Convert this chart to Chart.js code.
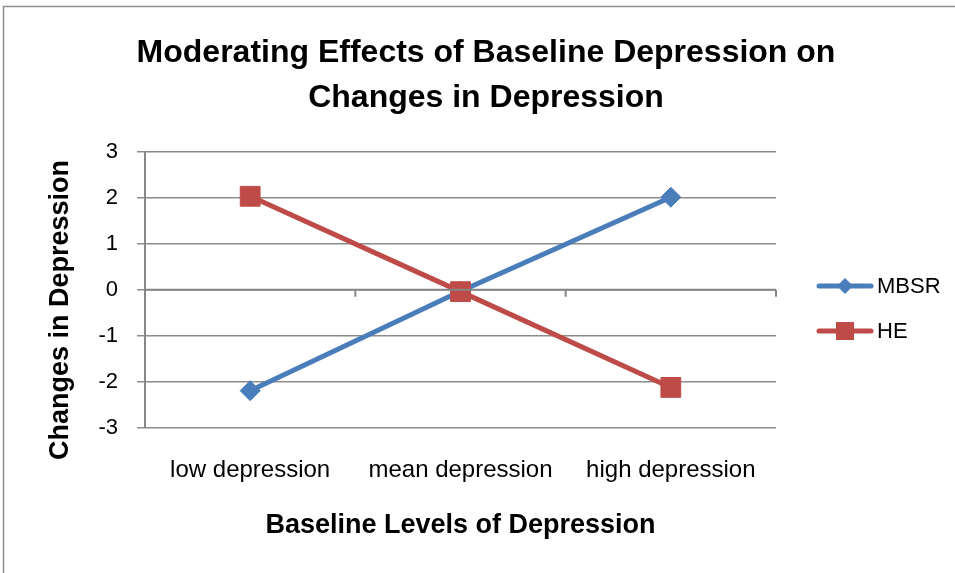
<!DOCTYPE html>
<html>
<head>
<meta charset="utf-8">
<script src="https://cdn.jsdelivr.net/npm/chart.js@4/dist/chart.umd.min.js"></script>
<style>
  html, body { margin: 0; padding: 0; background: #fff; }
  canvas { display: block; }
</style>
</head>
<body>
<canvas id="chart" width="955" height="573"></canvas>
<script>
const categories = ["low depression", "mean depression", "high depression"];
const mbsrValues = [-2.19, -0.03, 2.01];
const heValues = [2.03, -0.04, -2.12];
const yMin = -3;
const yMax = 3;
const yStep = 1;

const FONT = "'Liberation Sans', Arial, sans-serif";
const GRID = "#8c8c8c";

// frame round the whole chart, y axis title, x axis line at zero, legend
const extras = {
  id: "extras",
  beforeDraw(chart) {
    const c = chart.ctx;
    c.save();
    c.fillStyle = "#fff";
    c.fillRect(0, 0, chart.width, chart.height);
    c.strokeStyle = "#8e8e8e";
    c.lineWidth = 1.5;
    c.strokeRect(3.5, 6.5, chart.width + 10, chart.height + 10);
    c.restore();
  },
  afterDraw(chart) {
    const c = chart.ctx;
    const x = chart.scales.x;
    const y = chart.scales.y;
    const area = chart.chartArea;
    const y0 = y.getPixelForValue(0);

    c.save();
    c.strokeStyle = "#868686";
    c.lineWidth = 2;
    c.beginPath();
    c.moveTo(area.left, y0);
    c.lineTo(area.right, y0);
    for (let i = 0; i <= categories.length; i++) {
      let px;
      if (i === 0) px = area.left;
      else if (i === categories.length) px = area.right;
      else px = (x.getPixelForValue(i - 1) + x.getPixelForValue(i)) / 2;
      c.moveTo(px, y0);
      c.lineTo(px, y0 + 7);
    }
    c.stroke();

    // y title
    c.fillStyle = "#000";
    c.font = "bold 27px " + FONT;
    c.textAlign = "center";
    c.textBaseline = "alphabetic";
    c.translate(68, 310);
    c.rotate(-Math.PI / 2);
    c.fillText("Changes in Depression", 0, 0);
    c.restore();

    // legend
    c.save();
    const rows = [286, 331];
    chart.data.datasets.forEach((ds, i) => {
      const ly = rows[i];
      c.strokeStyle = ds.borderColor;
      c.lineWidth = 5;
      c.lineCap = "round";
      c.beginPath();
      c.moveTo(819, ly);
      c.lineTo(871, ly);
      c.stroke();
      c.fillStyle = ds.backgroundColor;
      c.beginPath();
      if (ds.pointStyle === "rectRot") {
        c.moveTo(845, ly - 8);
        c.lineTo(853, ly);
        c.lineTo(845, ly + 8);
        c.lineTo(837, ly);
        c.closePath();
      } else {
        c.rect(836, ly - 9, 18, 18);
      }
      c.fill();
      c.fillStyle = "#000";
      c.font = "22px " + FONT;
      c.textAlign = "left";
      c.textBaseline = "middle";
      c.fillText(ds.label, 877, ly + 1);
    });
    c.restore();
  }
};

new Chart(document.getElementById("chart"), {
  type: "line",
  data: {
    labels: categories,
    datasets: [
      {
        label: "MBSR",
        data: mbsrValues,
        borderColor: "#4a7ebb",
        backgroundColor: "#4a7ebb",
        borderWidth: 5,
        pointStyle: "rectRot",
        pointRadius: 10,
        pointBorderWidth: 1,
        order: 1
      },
      {
        label: "HE",
        data: heValues,
        borderColor: "#be4b48",
        backgroundColor: "#be4b48",
        borderWidth: 5,
        pointStyle: "rect",
        pointRadius: 14,
        pointBorderWidth: 1,
        order: 0
      }
    ]
  },
  options: {
    responsive: false,
    animation: false,
    layout: { padding: { left: 17, top: 6, right: 0, bottom: 0 } },
    plugins: {
      legend: { display: false },
      tooltip: { enabled: false },
      title: {
        display: true,
        text: ["Moderating Effects of Baseline Depression on", "Changes in Depression"],
        color: "#000",
        font: { family: FONT, size: 32, weight: "bold", lineHeight: 1.4 },
        padding: { top: 25, bottom: 31 }
      }
    },
    scales: {
      x: {
        type: "category",
        offset: true,
        grid: { display: false, drawTicks: false },
        border: { display: false },
        ticks: { color: "#000", font: { family: FONT, size: 24 }, padding: 28, maxRotation: 0 },
        title: {
          display: true,
          text: "Baseline Levels of Depression",
          color: "#000",
          font: { family: FONT, size: 27, weight: "bold" },
          padding: { top: 0, bottom: 31 }
        },
        afterFit(s) { s.height = 145; }
      },
      y: {
        min: yMin,
        max: yMax,
        ticks: { stepSize: yStep, color: "#000", font: { family: FONT, size: 22 }, padding: 19 },
        grid: { color: GRID, lineWidth: 1.5, tickLength: 8 },
        border: { color: "#868686", width: 2 },
        afterFit(s) { s.width = 128; }
      },
      yR: {
        position: "right",
        display: true,
        ticks: { display: false },
        grid: { display: false, drawTicks: false },
        border: { display: false },
        afterFit(s) { s.width = 179; }
      }
    }
  },
  plugins: [extras]
});
</script>
</body>
</html>
